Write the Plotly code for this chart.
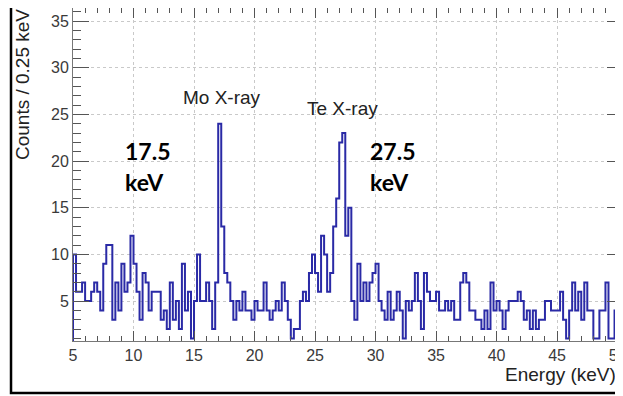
import plotly.graph_objects as go

# counts per 0.25 keV bin, starting at 5 keV
bin_start = 5.0
bin_width = 0.25
counts = [10, 6, 6, 7, 5, 5, 6, 7, 6, 4, 9, 11, 11, 3, 7, 4, 9, 6, 7, 12,
          9, 6, 3, 8, 7, 4, 6, 6, 6, 3, 4, 2, 7, 3, 5, 2, 9, 4, 6, 1,
          5, 10, 5, 5, 7, 5, 2, 7, 24, 13, 8, 7, 5, 3, 5, 4, 6, 4, 4, 3,
          5, 4, 4, 7, 4, 3, 4, 5, 4, 7, 5, 3, 1, 2, 2, 5, 6, 5, 8, 10,
          8, 6, 12, 10, 6, 8, 13, 16, 22, 23, 12, 15, 5, 3, 9, 5, 7, 5, 7, 8,
          9, 5, 4, 3, 6, 3, 4, 6, 4, 1, 5, 4, 5, 8, 5, 2, 8, 6, 5, 5,
          6, 4, 4, 5, 4, 5, 3, 3, 7, 8, 7, 4, 4, 3, 3, 2, 4, 2, 7, 4,
          5, 4, 2, 4, 5, 5, 5, 6, 5, 3, 4, 2, 4, 2, 3, 3, 5, 5, 4, 4,
          4, 6, 3, 1, 4, 7, 4, 6, 3, 7, 4, 4, 1, 1, 4, 4, 7, 1, 1, 4, 9]

x_ticks = [5, 10, 15, 20, 25, 30, 35, 40, 45, 50]
y_ticks = [5, 10, 15, 20, 25, 30, 35]

edges = [bin_start + bin_width * i for i in range(len(counts) + 1)]
xs = [edges[0]] + edges + [edges[-1]]
ys = [0] + counts + [counts[-1], 0]

fig = go.Figure()
fig.add_trace(go.Scatter(x=xs, y=ys, mode='lines', line_shape='hv',
                         line=dict(color='#2a2aa6', width=2), showlegend=False))

axfont = dict(family='Liberation Sans, Arial, sans-serif', size=16, color='#3a3a3a')
common = dict(showline=True, linecolor='#777', linewidth=1, mirror='allticks',
              ticks='inside', tickcolor='#555', showgrid=True, gridcolor='#c9c9c9',
              griddash='dot', gridwidth=1, zeroline=False, tickfont=axfont,
              automargin=False)

fig.update_xaxes(range=[5, 50.45], tickvals=x_ticks, ticklen=10, ticklabeloverflow='allow',
                 minor=dict(dtick=1, tick0=5, ticks='inside', ticklen=5,
                            tickcolor='#555', showgrid=False), **common)
fig.update_yaxes(range=[0.72, 36.4], tickvals=y_ticks, ticklen=16,
                 minor=dict(dtick=1, tick0=0, ticks='inside', ticklen=8,
                            tickcolor='#555', showgrid=False), **common)

tfont = dict(family='Liberation Sans, Arial, sans-serif', size=19, color='#222')
bfont = dict(family='Lato, Liberation Sans, sans-serif', size=23, color='#000')
fig.add_annotation(text='Counts / 0.25 keV', textangle=-90, xref='paper', yref='paper',
                   x=-0.093, y=1.004, xanchor='center', yanchor='top', showarrow=False, font=tfont)
fig.add_annotation(text='Energy (keV)', xref='paper', yref='paper', x=0.99, y=-0.1,
                   xanchor='right', yanchor='middle', showarrow=False, font=tfont)
fig.add_annotation(text='Mo X-ray', x=17.3, y=26.8, showarrow=False, font=tfont)
fig.add_annotation(text='Te X-ray', x=27.27, y=25.66, showarrow=False, font=tfont)
fig.add_annotation(text='<b>17.5</b>', x=9.13, y=21.06, xanchor='left', showarrow=False, font=bfont)
fig.add_annotation(text='<b>keV</b>', x=9.13, y=17.74, xanchor='left', showarrow=False, font=bfont)
fig.add_annotation(text='<b>27.5</b>', x=29.38, y=21.06, xanchor='left', showarrow=False, font=bfont)
fig.add_annotation(text='<b>keV</b>', x=29.38, y=17.74, xanchor='left', showarrow=False, font=bfont)

# black frame around the whole slide image
fig.add_shape(type='rect', xref='paper', yref='paper', x0=-0.1127, x1=1.05, y0=-0.156, y1=1.05,
              line=dict(color='black', width=2.5))

# the page adds an 8 px body margin, so the figure is 8 px smaller each way
fig.update_layout(width=615, height=388, margin=dict(l=65, r=0, t=0, b=55),
                  plot_bgcolor='white', paper_bgcolor='white')
fig.write_html("out.html")
